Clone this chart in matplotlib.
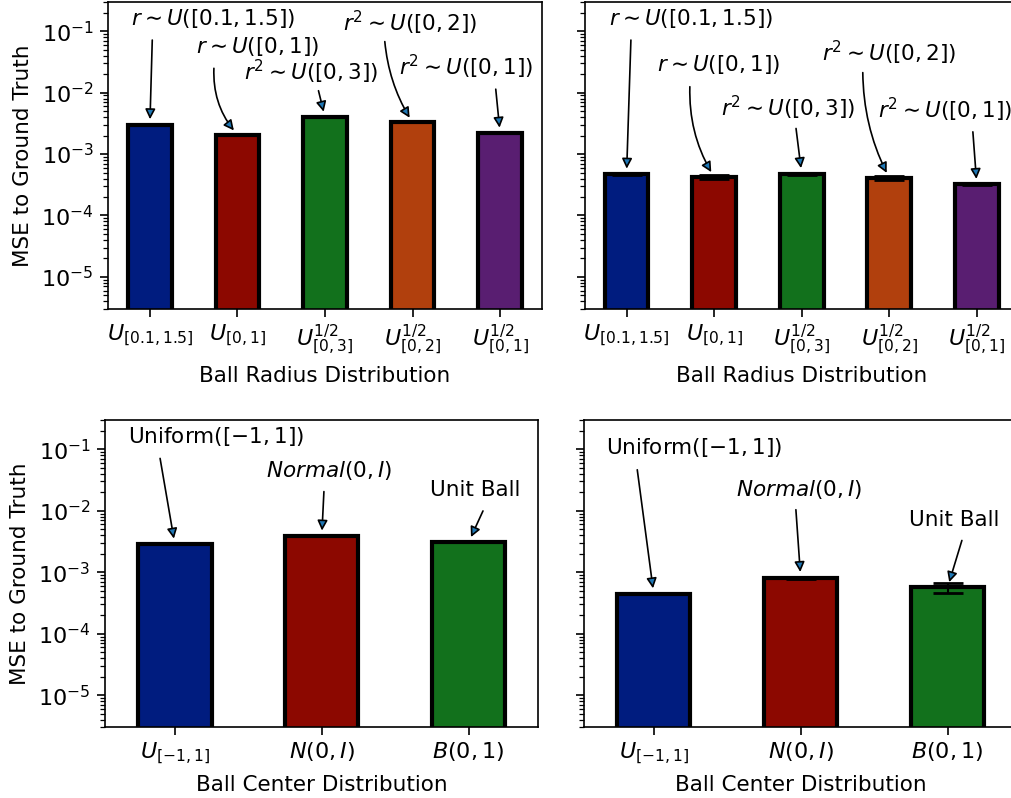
import matplotlib
matplotlib.use("Agg")
import matplotlib.pyplot as plt
import numpy as np

# ---------------- data ----------------
radius_labels = [r"$U_{[0.1, 1.5]}$", r"$U_{[0, 1]}$", r"$U^{1/2}_{[0, 3]}$",
                 r"$U^{1/2}_{[0, 2]}$", r"$U^{1/2}_{[0, 1]}$"]
radius_annots = [r"$r \sim U([0.1, 1.5])$", r"$r \sim U([0, 1])$", r"$r^2 \sim U([0, 3])$",
                 r"$r^2 \sim U([0, 2])$", r"$r^2 \sim U([0, 1])$"]
radius_mse_a = [3.0e-3, 2.07e-3, 4.0e-3, 3.27e-3, 2.19e-3]
radius_err_a = [0, 0, 0, 0, 0]
radius_mse_b = [4.7e-4, 4.25e-4, 4.8e-4, 4.1e-4, 3.2e-4]
radius_err_b = [1.2e-5, 3.0e-5, 2.0e-5, 2.5e-5, 8e-6]

center_labels = [r"$U_{[-1, 1]}$", r"$N(0, I)$", r"$B(0, 1)$"]
center_annots = [r"Uniform$([-1, 1])$", r"$Normal(0, I)$", "Unit Ball"]
center_mse_a = [2.87e-3, 3.87e-3, 3.09e-3]
center_err_a = [0, 0, 0]
center_mse_b = [4.45e-4, 8.2e-4, 5.65e-4]
center_err_b = [8e-6, 3.0e-5, 1.0e-4]

radius_colors = ["#001c7f", "#8c0800", "#12711c", "#b1400d", "#591e71"]
center_colors = ["#001c7f", "#8c0800", "#12711c"]

# ---------------- layout ----------------
# (text left x, text center y, arrow start x, arrow start y, arc rad) in axes fraction
radius_layout_a = [(0.053, 0.947, 0.1015, 0.876, 0.0),
                   (0.203, 0.854, 0.2437, 0.784, 0.2),
                   (0.313, 0.773, 0.485, 0.711, 0.0),
                   (0.542, 0.931, 0.638, 0.871, 0.12),
                   (0.670, 0.789, 0.894, 0.716, 0.0)]
radius_layout_b = [(0.056, 0.947, 0.106, 0.876, 0.0),
                   (0.167, 0.795, 0.242, 0.724, 0.15),
                   (0.315, 0.654, 0.487, 0.588, 0.0),
                   (0.546, 0.833, 0.641, 0.770, 0.12),
                   (0.677, 0.648, 0.895, 0.577, 0.0)]
center_layout_a = [(0.052, 0.946, 0.127, 0.875, 0.0),
                   (0.371, 0.837, 0.505, 0.767, 0.0),
                   (0.750, 0.772, 0.872, 0.704, 0.0)]
center_layout_b = [(0.051, 0.909, 0.123, 0.838, 0.0),
                   (0.350, 0.775, 0.489, 0.708, 0.0),
                   (0.751, 0.673, 0.872, 0.608, 0.0)]

FS = 15.5
TICK_FS = 16
XTICK_FS = 16

fig = plt.figure(figsize=(10.11, 7.98), dpi=100)
axes = {
    "ra": fig.add_axes([0.1071, 0.6128, 0.4287, 0.3847]),
    "rb": fig.add_axes([0.5786, 0.6128, 0.4287, 0.3847]),
    "ca": fig.add_axes([0.1039, 0.0886, 0.4287, 0.3851]),
    "cb": fig.add_axes([0.5776, 0.0886, 0.4287, 0.3851]),
}


def draw(ax, labels, annots, mse, err, colors, layout, xlabel, ylabel):
    x = np.arange(len(labels))
    has_err = any(e > 0 for e in err)
    ax.bar(x, mse, width=0.5, color=colors, edgecolor="black", linewidth=3,
           yerr=err if has_err else None,
           error_kw=dict(ecolor="black", elinewidth=1.5, capsize=10.5, capthick=2))
    ax.set_yscale("log")
    ax.set_ylim(3e-6, 3e-1)
    ax.set_xlim(-0.475, len(labels) - 1 + 0.475)
    ax.set_xticks(x)
    ax.set_xticklabels(labels, fontsize=XTICK_FS)
    ax.tick_params(axis="both", which="major", length=6, width=1.2)
    ax.tick_params(axis="x", which="major", pad=3.5)
    ax.tick_params(axis="y", which="major", pad=4.5)
    ax.tick_params(axis="y", which="minor", length=3.5, width=0.9)
    ax.tick_params(axis="y", labelsize=TICK_FS)
    for s in ax.spines.values():
        s.set_linewidth(1.2)
    ax.set_xlabel(xlabel, fontsize=FS, labelpad=6.5)
    if ylabel:
        ax.set_ylabel(ylabel, fontsize=FS, labelpad=6)
    else:
        ax.tick_params(axis="y", which="both", labelleft=False)
    for i, (txt, val, lay) in enumerate(zip(annots, mse, layout)):
        tx, ty, sx, sy, rad = lay
        ax.text(tx, ty, txt, transform=ax.transAxes, ha="left", va="center",
                fontsize=FS)
        ax.annotate("", xy=(i, val), xycoords="data", xytext=(sx, sy),
                    textcoords="axes fraction",
                    arrowprops=dict(arrowstyle="-|>", lw=1.2, shrinkA=0, shrinkB=4,
                                    mutation_scale=15, facecolor="#1f77b4",
                                    edgecolor="black",
                                    connectionstyle=f"arc3,rad={rad}"))


draw(axes["ra"], radius_labels, radius_annots, radius_mse_a, radius_err_a, radius_colors,
     radius_layout_a, "Ball Radius Distribution", "MSE to Ground Truth")
draw(axes["rb"], radius_labels, radius_annots, radius_mse_b, radius_err_b, radius_colors,
     radius_layout_b, "Ball Radius Distribution", None)
draw(axes["ca"], center_labels, center_annots, center_mse_a, center_err_a, center_colors,
     center_layout_a, "Ball Center Distribution", "MSE to Ground Truth")
draw(axes["cb"], center_labels, center_annots, center_mse_b, center_err_b, center_colors,
     center_layout_b, "Ball Center Distribution", None)

fig.savefig("out.png", dpi=100)
